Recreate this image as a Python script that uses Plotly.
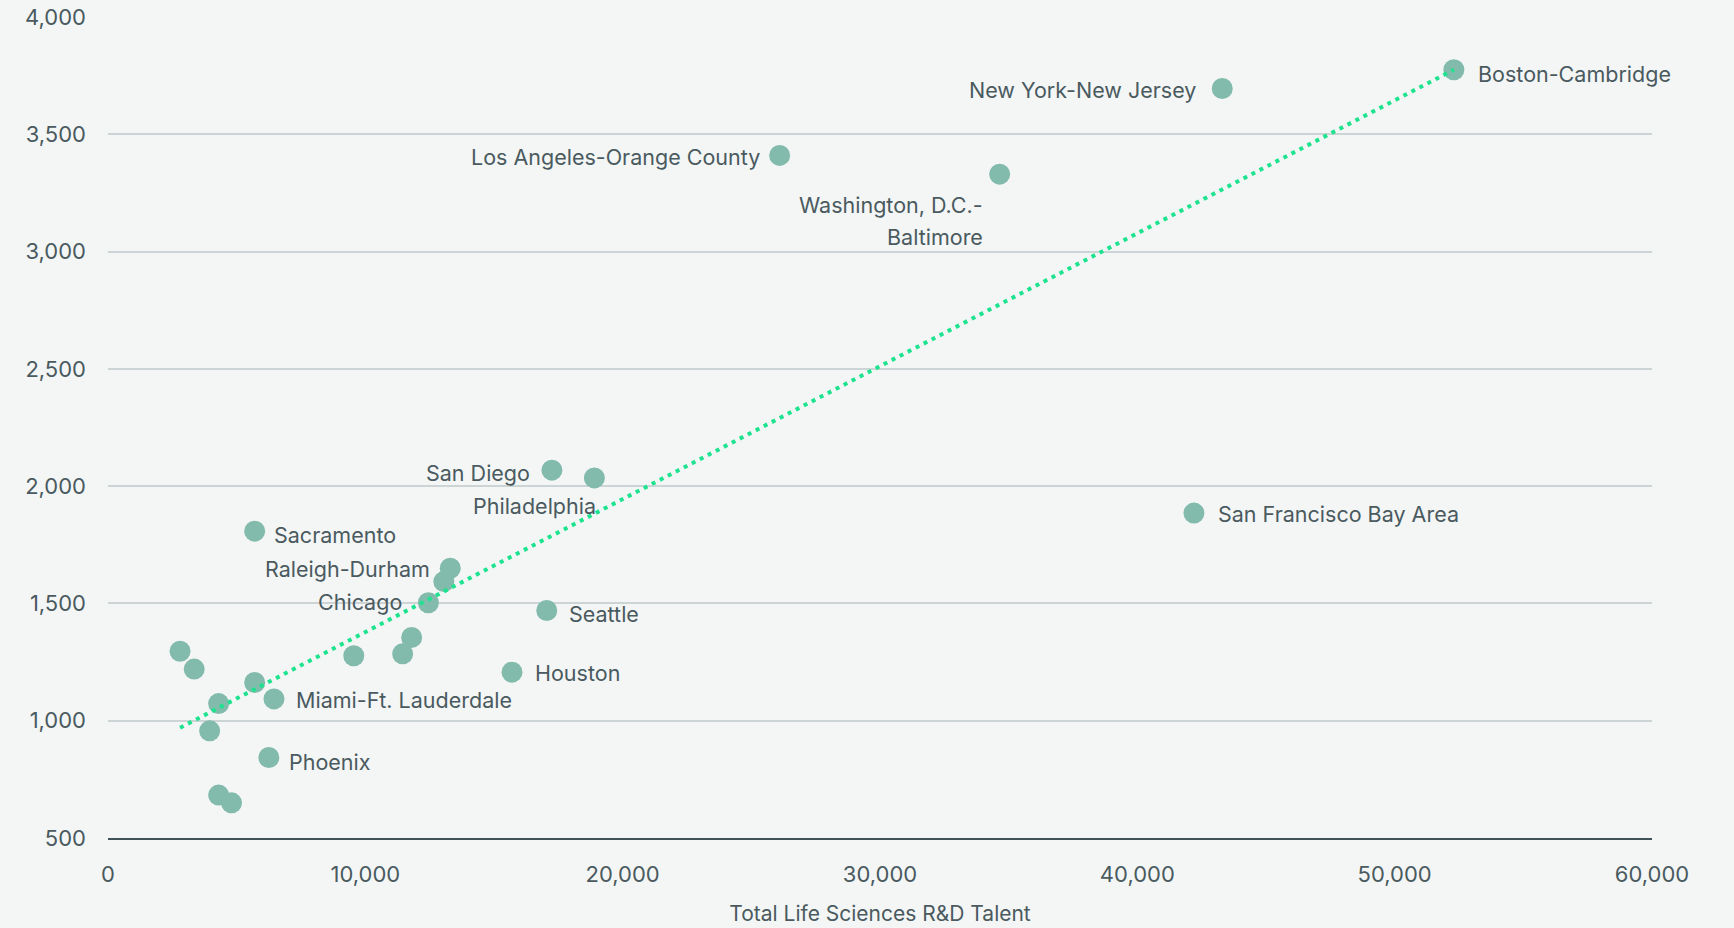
import plotly.graph_objects as go

# Data
markets = [
    "Boston-Cambridge", "New York-New Jersey", "Los Angeles-Orange County",
    "Washington, D.C.-Baltimore", "San Francisco Bay Area", "San Diego",
    "Philadelphia", "Sacramento", "Raleigh-Durham", "Unlabeled A", "Chicago",
    "Seattle", "Unlabeled B", "Unlabeled C", "Unlabeled D", "Houston",
    "Unlabeled E", "Unlabeled F", "Unlabeled G", "Miami-Ft. Lauderdale",
    "Unlabeled H", "Unlabeled I", "Phoenix", "Unlabeled J", "Unlabeled K",
]
talent = [52300, 43300, 26100, 34650, 42200, 17250, 18900, 5700, 13300, 13050,
          12450, 17050, 11800, 11450, 9550, 15700, 2800, 3350, 5700, 6450,
          4300, 3950, 6250, 4300, 4800]
yvals = [3775, 3695, 3410, 3330, 1885, 2068, 2035, 1808, 1650, 1593,
         1503, 1470, 1355, 1285, 1277, 1207, 1296, 1220, 1163, 1093,
         1073, 957, 843, 683, 650]

trend_x = [2800, 52300]
trend_y = [970, 3775]

x_ticks = [0, 10000, 20000, 30000, 40000, 50000, 60000]
y_ticks = [500, 1000, 1500, 2000, 2500, 3000, 3500, 4000]

# Label placement: (anchor, xshift, yshift)
label_style = {
    "Boston-Cambridge": ("left", 22, -4),
    "New York-New Jersey": ("right", -24, -1),
    "Los Angeles-Orange County": ("right", -18, -2),
    "San Francisco Bay Area": ("left", 22, -1),
    "San Diego": ("right", -20, -3),
    "Sacramento": ("left", 17, -4),
    "Raleigh-Durham": ("right", -18, -1),
    "Chicago": ("right", -24, 1),
    "Seattle": ("left", 20, -4),
    "Houston": ("left", 21, -1),
    "Miami-Ft. Lauderdale": ("left", 20, -1),
    "Phoenix": ("left", 18, -4),
}

TEXT = "#4a5a5f"
FONT = "Inter"
LABEL_SIZE = 21.5

fig = go.Figure()
fig.add_trace(go.Scatter(
    x=talent, y=yvals, mode="markers", text=markets,
    marker=dict(size=21, color="#82bbab", line=dict(width=0)),
    hoverinfo="text+x+y", showlegend=False,
))
fig.add_trace(go.Scatter(
    x=trend_x, y=trend_y, mode="lines",
    line=dict(color="#1de38f", width=4, dash="4px,5px"),
    hoverinfo="skip", showlegend=False,
))

annotations = []
for name, xv, yv in zip(markets, talent, yvals):
    if name in label_style:
        anchor, xs, ys = label_style[name]
        annotations.append(dict(
            x=xv, y=yv, xref="x", yref="y", text=name, showarrow=False,
            xanchor=anchor, yanchor="middle", xshift=xs, yshift=ys,
            font=dict(family=FONT, size=LABEL_SIZE, color=TEXT),
        ))
    elif name == "Washington, D.C.-Baltimore":
        annotations.append(dict(
            x=xv, y=yv, xref="x", yref="y", text="Washington, D.C.-",
            showarrow=False, xanchor="right", yanchor="middle",
            xshift=-15, yshift=-31,
            font=dict(family=FONT, size=LABEL_SIZE, color=TEXT),
        ))
        annotations.append(dict(
            x=xv, y=yv, xref="x", yref="y", text="Baltimore",
            showarrow=False, xanchor="right", yanchor="middle",
            xshift=-15, yshift=-63,
            font=dict(family=FONT, size=LABEL_SIZE, color=TEXT),
        ))
    elif name == "Philadelphia":
        annotations.append(dict(
            x=xv, y=yv, xref="x", yref="y", text=name, showarrow=False,
            xanchor="right", yanchor="middle", xshift=4, yshift=-28,
            font=dict(family=FONT, size=LABEL_SIZE, color=TEXT),
        ))

fig.update_layout(
    width=1734, height=928,
    margin=dict(l=108, r=82, t=17, b=90),
    paper_bgcolor="#f3f6f5", plot_bgcolor="#f3f6f5",
    font=dict(family=FONT, size=21, color=TEXT),
    annotations=annotations,
    hovermode="closest",
)
fig.update_xaxes(
    range=[0, 60000], tickvals=x_ticks,
    ticktext=[f"{v:,}" for v in x_ticks],
    showgrid=False, zeroline=False,
    showline=True, linecolor="#3f5257", linewidth=2,
    ticks="", ticklabelstandoff=16,
    tickfont=dict(family=FONT, size=22, color=TEXT),
    title=dict(text="Total Life Sciences R&D Talent", standoff=20,
               font=dict(family=FONT, size=21, color=TEXT)),
    automargin=False,
)
fig.update_yaxes(
    range=[500, 4000], tickvals=y_ticks,
    ticktext=[f"{v:,}" for v in y_ticks],
    showgrid=True, gridcolor="#cdd4d6", gridwidth=2,
    zeroline=False, showline=False,
    ticks="", ticklabelstandoff=21,
    tickfont=dict(family=FONT, size=22, color=TEXT),
    automargin=False,
)

fig.write_html(
    "out.html",
    config={"displayModeBar": False},
    post_script="document.body.style.margin='0';document.body.style.background='#f3f6f5';",
)
